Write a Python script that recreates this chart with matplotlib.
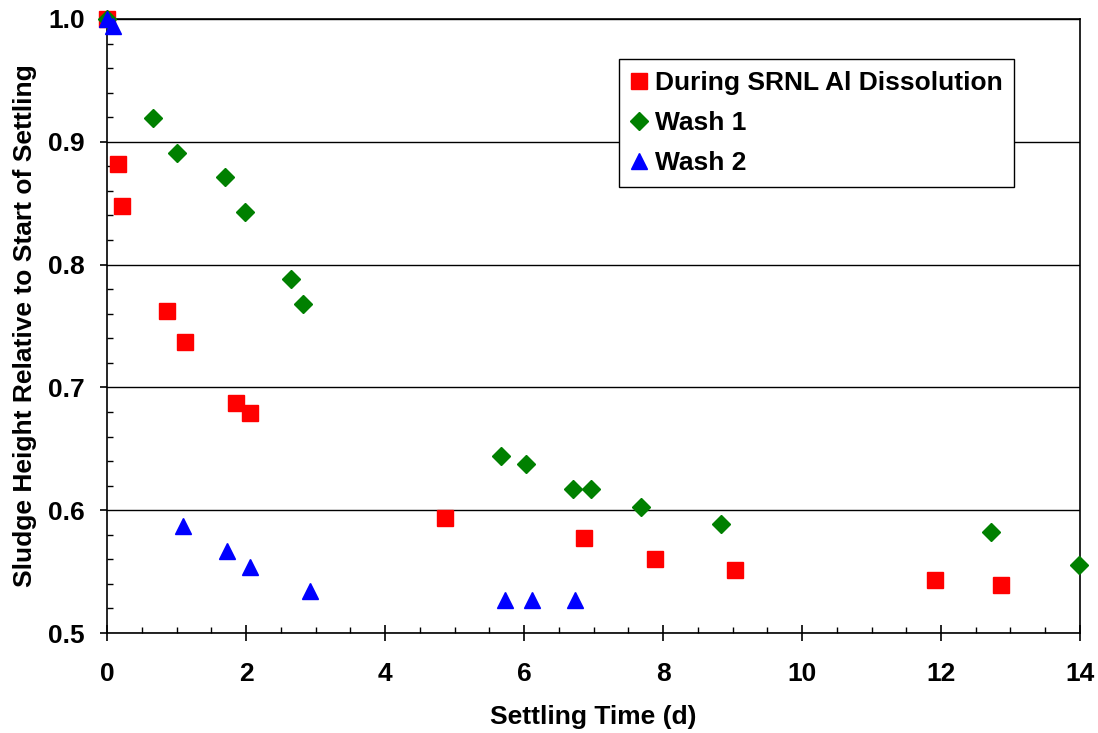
import matplotlib
matplotlib.use("Agg")
import matplotlib.pyplot as plt
from matplotlib.ticker import MultipleLocator, FormatStrFormatter

plt.rcParams["font.family"] = ["Liberation Sans", "DejaVu Sans"]
plt.rcParams["font.weight"] = "bold"

# During SRNL Al Dissolution
al_t = [0.0, 0.16, 0.22, 0.86, 1.12, 1.86, 2.06, 4.87, 6.87, 7.89, 9.03, 11.91, 12.86]
al_h = [1.0, 0.882, 0.848, 0.762, 0.737, 0.687, 0.679, 0.594, 0.577, 0.560, 0.551, 0.543, 0.539]

# Wash 1
w1_t = [0.0, 0.66, 1.01, 1.69, 1.99, 2.64, 2.82, 5.67, 6.03, 6.71, 6.97, 7.68, 8.83, 12.72, 13.98]
w1_h = [1.0, 0.919, 0.891, 0.871, 0.843, 0.788, 0.768, 0.644, 0.638, 0.617, 0.617, 0.603, 0.589, 0.582, 0.555]

# Wash 2
w2_t = [0.0, 0.09, 1.09, 1.73, 2.06, 2.92, 5.72, 6.12, 6.73]
w2_h = [1.0, 0.994, 0.587, 0.567, 0.554, 0.534, 0.527, 0.527, 0.527]

FS = 19

fig = plt.figure(figsize=(10.98, 7.33), dpi=100)
ax = fig.add_axes([0.0975, 0.1364, 0.8861, 0.8377])

ax.plot(al_t, al_h, "s", color="#ff0000", markersize=11, linestyle="none",
        label="During SRNL Al Dissolution", clip_on=False, zorder=3)
ax.plot(w1_t, w1_h, "D", color="#008000", markersize=9.5, linestyle="none",
        label="Wash 1", clip_on=False, zorder=4)
ax.plot(w2_t, w2_h, "^", color="#0000ff", markersize=12, linestyle="none",
        label="Wash 2", clip_on=False, zorder=5)

ax.set_xlim(0, 14)
ax.set_ylim(0.5, 1.0)
ax.xaxis.set_major_locator(MultipleLocator(2))
ax.xaxis.set_minor_locator(MultipleLocator(0.5))
ax.yaxis.set_major_locator(MultipleLocator(0.1))
ax.yaxis.set_minor_locator(MultipleLocator(0.02))
ax.yaxis.set_major_formatter(FormatStrFormatter("%.1f"))

ax.tick_params(axis="x", which="major", direction="inout", length=11.5, width=1.2,
               labelsize=FS, pad=15)
ax.tick_params(axis="x", which="minor", direction="in", length=4.3, width=1)
ax.tick_params(axis="y", which="major", direction="out", length=5, width=1.2,
               labelsize=FS, pad=11)
ax.tick_params(axis="y", which="minor", direction="in", length=4.3, width=1)

ax.grid(axis="y", which="major", color="black", linewidth=1)
for s in ax.spines.values():
    s.set_linewidth(1.2)
    s.set_color("black")

ax.set_xlabel("Settling Time (d)", fontsize=FS, fontweight="bold", labelpad=14)
ax.set_ylabel("Sludge Height Relative to Start of Settling", fontsize=FS,
              fontweight="bold", labelpad=8)

leg = ax.legend(loc="upper left", bbox_to_anchor=(0.5264, 0.9345), fontsize=FS,
                frameon=True, fancybox=False, edgecolor="black", handlelength=0.6,
                handletextpad=0.3, borderpad=0.45, labelspacing=0.6,
                borderaxespad=0, numpoints=1, framealpha=1)
leg.get_frame().set_linewidth(1)

fig.savefig("out.png", dpi=100)
